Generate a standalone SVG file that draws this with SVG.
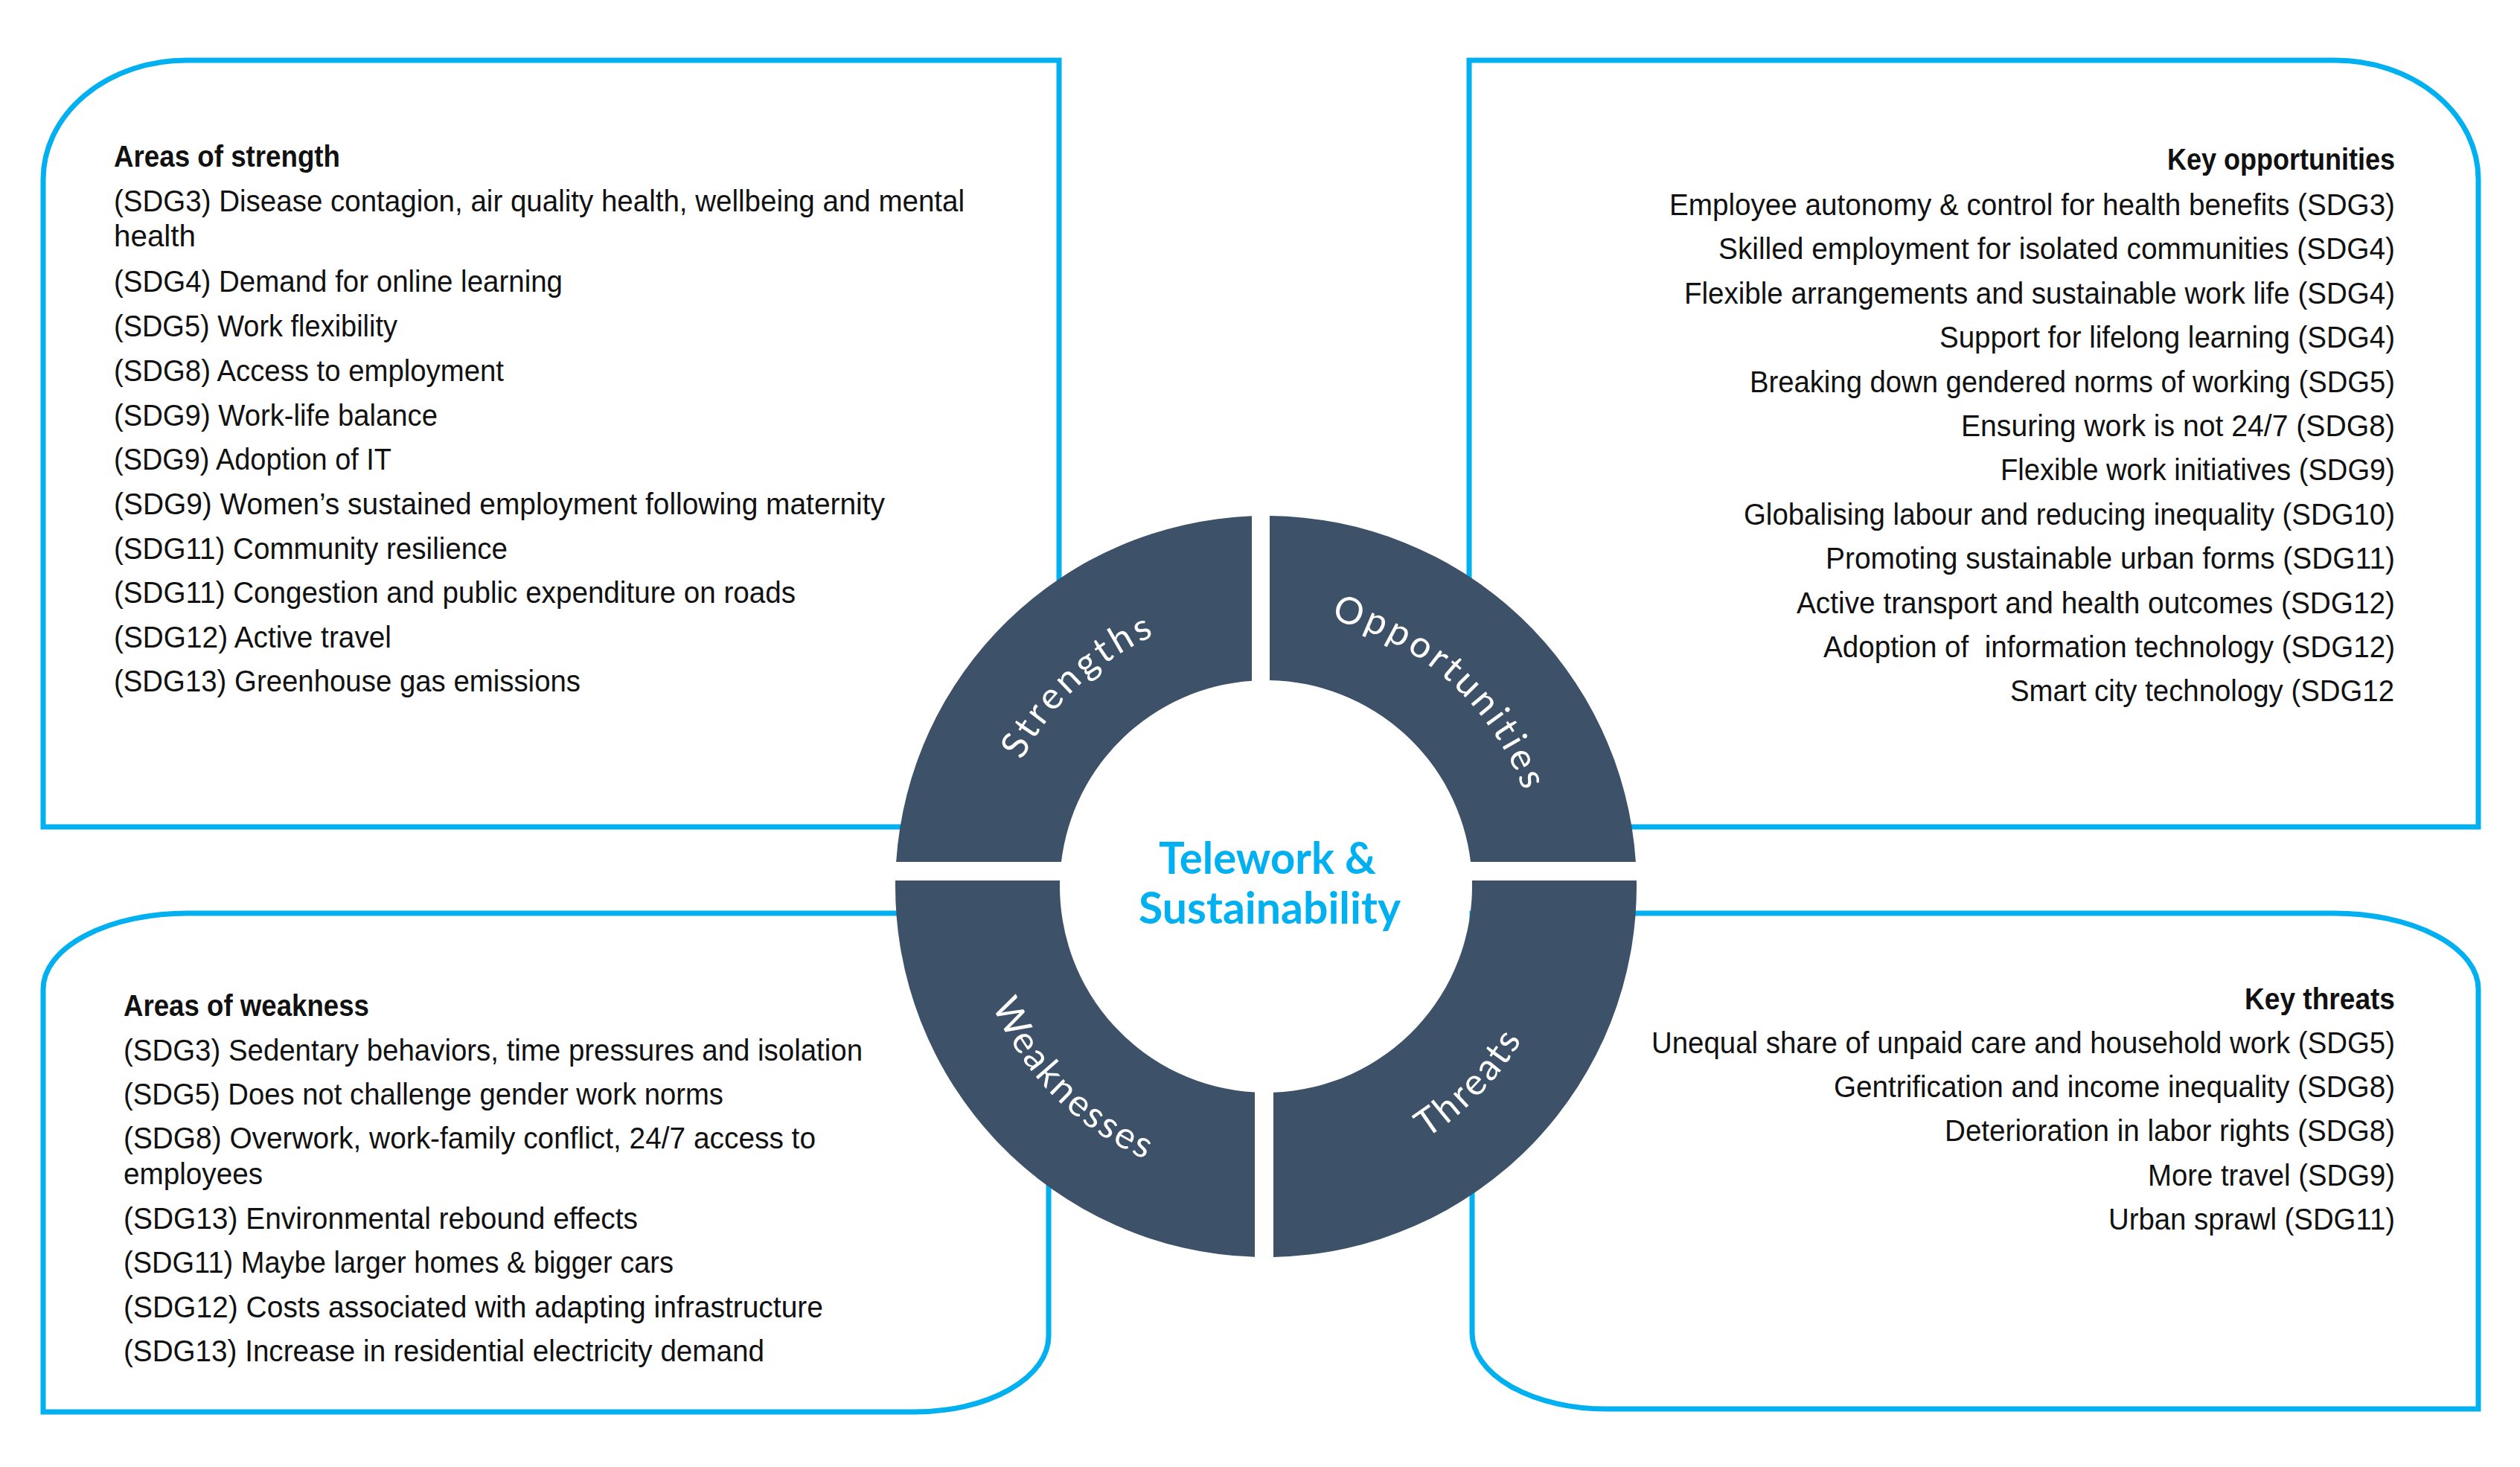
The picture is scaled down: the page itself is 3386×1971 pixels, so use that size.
<svg xmlns="http://www.w3.org/2000/svg" xmlns:xlink="http://www.w3.org/1999/xlink" width="3386" height="1971" viewBox="0 0 3386 1971">
<style>
.box{fill:#fff;stroke:#00b0f0;stroke-width:7}
.t{font-family:"Liberation Sans",Arial,sans-serif;font-size:40px;fill:#111}
.h{font-weight:bold}
.seg{fill:#3d5168}
.lbl{font-family:Lato,"Open Sans",sans-serif;font-size:50px;fill:#fff}
.ctr{font-family:Lato,"Open Sans",sans-serif;font-weight:bold;font-size:60px;fill:#00b0f0}
</style>
<defs>
<path id="pS" d="M 1341.46 1274.01 A 369 369 0 0 1 1808.88 838.13"/>
<path id="pO" d="M 1586.97 840.06 A 369 369 0 0 1 2061.94 1267.72"/>
<path id="pW" d="M 1313.66 1087.21 A 401 401 0 0 0 1804.79 1578.34"/>
<path id="pT" d="M 1603.99 1580.09 A 401 401 0 0 0 2086.47 1080.47"/>
</defs>
<rect width="3386" height="1971" fill="#fff"/>

<g id="box-strengths">
<path class="box" d="M 58 1111 L 58 241 A 192 160 0 0 1 250 81 L 1423 81 L 1423 1111 Z"/>
<g class="t">
<text class="h" x="153" y="224" textLength="304" lengthAdjust="spacingAndGlyphs">Areas of strength</text>
<text x="153" y="284" textLength="1143" lengthAdjust="spacingAndGlyphs">(SDG3) Disease contagion, air quality health, wellbeing and mental</text>
<text x="153" y="331" textLength="110" lengthAdjust="spacingAndGlyphs">health</text>
<text x="153" y="392" textLength="603" lengthAdjust="spacingAndGlyphs">(SDG4) Demand for online learning</text>
<text x="153" y="452" textLength="381" lengthAdjust="spacingAndGlyphs">(SDG5) Work flexibility</text>
<text x="153" y="512" textLength="524" lengthAdjust="spacingAndGlyphs">(SDG8) Access to employment</text>
<text x="153" y="572" textLength="435" lengthAdjust="spacingAndGlyphs">(SDG9) Work-life balance</text>
<text x="153" y="631" textLength="373" lengthAdjust="spacingAndGlyphs">(SDG9) Adoption of IT</text>
<text x="153" y="691" textLength="1036" lengthAdjust="spacingAndGlyphs">(SDG9) Women’s sustained employment following maternity</text>
<text x="153" y="751" textLength="529" lengthAdjust="spacingAndGlyphs">(SDG11) Community resilience</text>
<text x="153" y="810" textLength="916" lengthAdjust="spacingAndGlyphs">(SDG11) Congestion and public expenditure on roads</text>
<text x="153" y="870" textLength="373" lengthAdjust="spacingAndGlyphs">(SDG12) Active travel</text>
<text x="153" y="929" textLength="627" lengthAdjust="spacingAndGlyphs">(SDG13) Greenhouse gas emissions</text>
</g>
</g>

<g id="box-opportunities">
<path class="box" d="M 1974 1111 L 1974 81 L 3138 81 A 192 160 0 0 1 3330 241 L 3330 1111 Z"/>
<g class="t">
<text class="h" x="2912" y="228" textLength="306" lengthAdjust="spacingAndGlyphs">Key opportunities</text>
<text x="2243" y="289" textLength="975" lengthAdjust="spacingAndGlyphs">Employee autonomy &amp; control for health benefits (SDG3)</text>
<text x="2309" y="348" textLength="909" lengthAdjust="spacingAndGlyphs">Skilled employment for isolated communities (SDG4)</text>
<text x="2263" y="408" textLength="955" lengthAdjust="spacingAndGlyphs">Flexible arrangements and sustainable work life (SDG4)</text>
<text x="2606" y="467" textLength="612" lengthAdjust="spacingAndGlyphs">Support for lifelong learning (SDG4)</text>
<text x="2351" y="527" textLength="867" lengthAdjust="spacingAndGlyphs">Breaking down gendered norms of working (SDG5)</text>
<text x="2635" y="586" textLength="583" lengthAdjust="spacingAndGlyphs">Ensuring work is not 24/7 (SDG8)</text>
<text x="2688" y="645" textLength="530" lengthAdjust="spacingAndGlyphs">Flexible work initiatives (SDG9)</text>
<text x="2343" y="705" textLength="875" lengthAdjust="spacingAndGlyphs">Globalising labour and reducing inequality (SDG10)</text>
<text x="2453" y="764" textLength="765" lengthAdjust="spacingAndGlyphs">Promoting sustainable urban forms (SDG11)</text>
<text x="2414" y="824" textLength="804" lengthAdjust="spacingAndGlyphs">Active transport and health outcomes (SDG12)</text>
<text x="2450" y="883" textLength="768" lengthAdjust="spacingAndGlyphs">Adoption of &#160;information technology (SDG12)</text>
<text x="2701" y="942" textLength="516" lengthAdjust="spacingAndGlyphs">Smart city technology (SDG12</text>
</g>
</g>

<g id="box-weaknesses">
<path class="box" d="M 58 1897 L 58 1329 A 194 102 0 0 1 252 1227 L 1409 1227 L 1409 1795 A 180 102 0 0 1 1229 1897 Z"/>
<g class="t">
<text class="h" x="166" y="1365" textLength="330" lengthAdjust="spacingAndGlyphs">Areas of weakness</text>
<text x="166" y="1425" textLength="993" lengthAdjust="spacingAndGlyphs">(SDG3) Sedentary behaviors, time pressures and isolation</text>
<text x="166" y="1484" textLength="806" lengthAdjust="spacingAndGlyphs">(SDG5) Does not challenge gender work norms</text>
<text x="166" y="1543" textLength="930" lengthAdjust="spacingAndGlyphs">(SDG8) Overwork, work-family conflict, 24/7 access to</text>
<text x="166" y="1591" textLength="187" lengthAdjust="spacingAndGlyphs">employees</text>
<text x="166" y="1651" textLength="691" lengthAdjust="spacingAndGlyphs">(SDG13) Environmental rebound effects</text>
<text x="166" y="1710" textLength="739" lengthAdjust="spacingAndGlyphs">(SDG11) Maybe larger homes &amp; bigger cars</text>
<text x="166" y="1770" textLength="940" lengthAdjust="spacingAndGlyphs">(SDG12) Costs associated with adapting infrastructure</text>
<text x="166" y="1829" textLength="861" lengthAdjust="spacingAndGlyphs">(SDG13) Increase in residential electricity demand</text>
</g>
</g>

<g id="box-threats">
<path class="box" d="M 1978 1227 L 3136 1227 A 194 102 0 0 1 3330 1329 L 3330 1893 L 2158 1893 A 180 102 0 0 1 1978 1791 Z"/>
<g class="t">
<text class="h" x="3016" y="1356" textLength="202" lengthAdjust="spacingAndGlyphs">Key threats</text>
<text x="2219" y="1415" textLength="999" lengthAdjust="spacingAndGlyphs">Unequal share of unpaid care and household work (SDG5)</text>
<text x="2464" y="1474" textLength="754" lengthAdjust="spacingAndGlyphs">Gentrification and income inequality (SDG8)</text>
<text x="2613" y="1533" textLength="605" lengthAdjust="spacingAndGlyphs">Deterioration in labor rights (SDG8)</text>
<text x="2886" y="1593" textLength="332" lengthAdjust="spacingAndGlyphs">More travel (SDG9)</text>
<text x="2833" y="1652" textLength="385" lengthAdjust="spacingAndGlyphs">Urban sprawl (SDG11)</text>
</g>
</g>

<g id="connectors"></g>

<g id="seg-strengths">
<path class="seg" d="M 1682 693.36 A 498 498 0 0 0 1204.10 1158 L 1425.97 1158 A 277 277 0 0 1 1682 914.65 Z"/>
<text class="lbl" letter-spacing="5"><textPath xlink:href="#pS" href="#pS" startOffset="50%" text-anchor="middle">Strengths</textPath></text>
</g>
<g id="seg-opportunities">
<path class="seg" d="M 1706 693.03 L 1706 914.05 A 277 277 0 0 1 1976.03 1158 L 2197.90 1158 A 498 498 0 0 0 1706 693.03 Z"/>
<text class="lbl" letter-spacing="4.5"><textPath xlink:href="#pO" href="#pO" startOffset="50%" text-anchor="middle">Opportunities</textPath></text>
</g>
<g id="seg-weaknesses">
<path class="seg" d="M 1203.06 1183 L 1424.12 1183 A 277 277 0 0 0 1686 1467.59 L 1686 1688.77 A 498 498 0 0 1 1203.06 1183 Z"/>
<text class="lbl" letter-spacing="3"><textPath xlink:href="#pW" href="#pW" startOffset="50%" text-anchor="middle">Weaknesses</textPath></text>
</g>
<g id="seg-threats">
<path class="seg" d="M 1711 1467.82 L 1711 1688.90 A 498 498 0 0 0 2198.94 1183 L 1977.88 1183 A 277 277 0 0 1 1711 1467.82 Z"/>
<text class="lbl" letter-spacing="3.5"><textPath xlink:href="#pT" href="#pT" startOffset="50%" text-anchor="middle">Threats</textPath></text>
</g>

<g id="center">
<text class="ctr" x="1557" y="1174" textLength="292" lengthAdjust="spacingAndGlyphs">Telework &amp;</text>
<text class="ctr" x="1530" y="1241" textLength="352" lengthAdjust="spacingAndGlyphs">Sustainability</text>
</g>
</svg>
